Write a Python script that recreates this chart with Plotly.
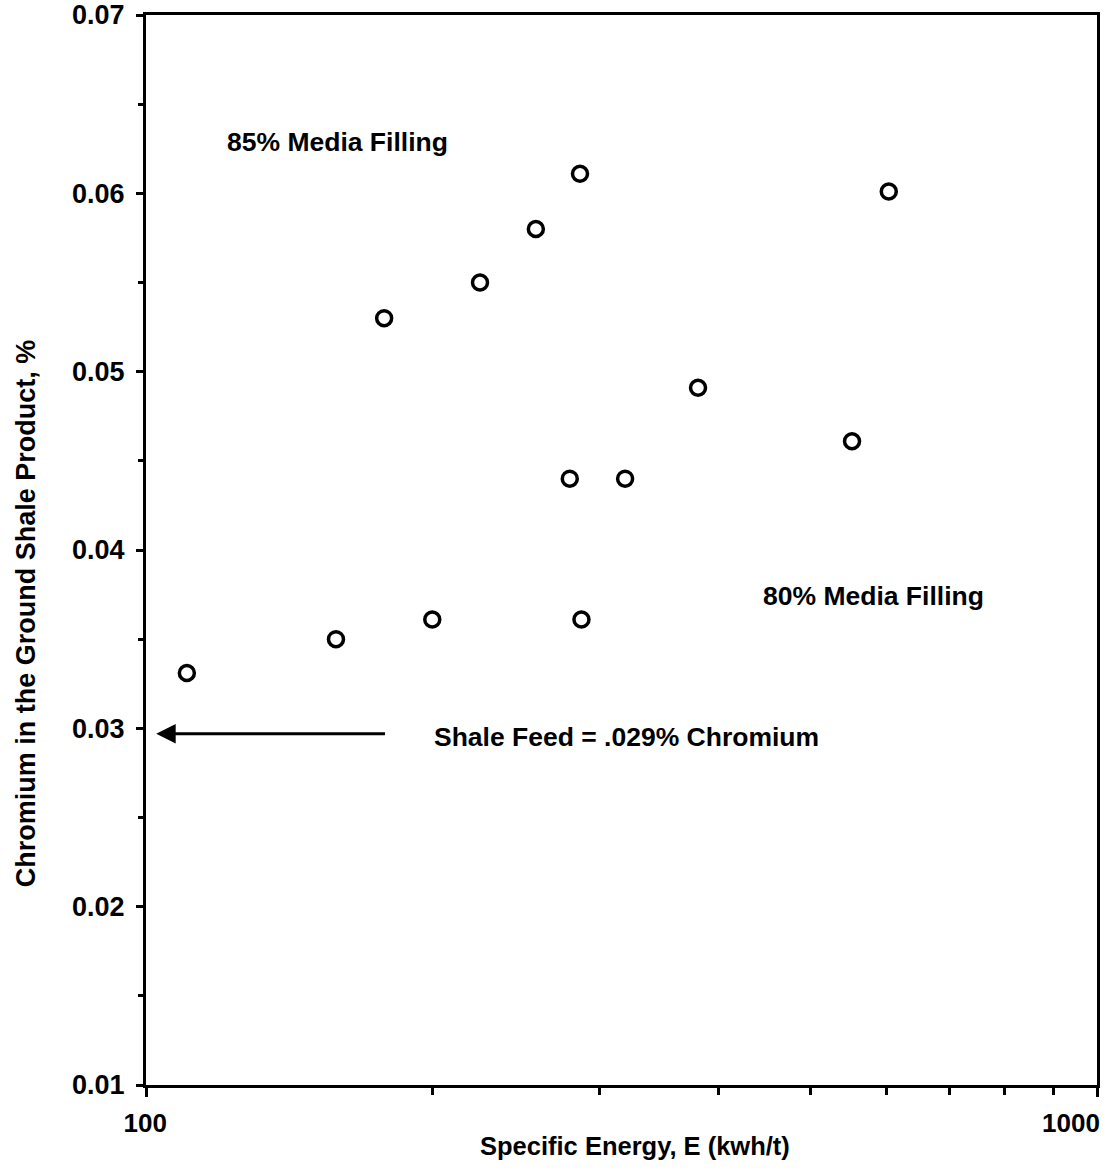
import numpy as np
import plotly.graph_objects as go

# Data
energy = [110.4, 158.4, 178, 200, 224.5, 257, 279, 286, 287, 319, 380.6, 552.6, 604]
chromium = [0.0331, 0.0350, 0.0530, 0.0361, 0.0550, 0.0580, 0.0440, 0.0611, 0.0361, 0.0440, 0.0491, 0.0461, 0.0601]

x_ticks = [100, 1000]
x_tick_labels = ["\u00a0" * 7 + "100", "1000"]
x_minor = [200, 300, 400, 500, 600, 700, 800, 900]
y_ticks = [0.01, 0.02, 0.03, 0.04, 0.05, 0.06, 0.07]
y_tick_labels = ["0.01", "0.02", "0.03", "0.04", "0.05", "0.06", "0.07"]

feed_level = 0.0297
arrow_tail_x = 179
arrow_head_x = 102.5

FONT = "Liberation Sans, Arial, sans-serif"

fig = go.Figure()
fig.add_trace(go.Scatter(
    x=energy, y=chromium, mode="markers",
    marker=dict(symbol="circle-open", size=15, color="black", line=dict(width=3.5, color="black")),
    showlegend=False, hoverinfo="skip",
))

fig.update_layout(
    width=1109, height=1176,
    margin=dict(l=146, r=12, t=15, b=91),
    paper_bgcolor="white", plot_bgcolor="white",
    font=dict(family=FONT, size=20, color="black"),
    showlegend=False,
)

fig.update_xaxes(
    type="log", range=[2, 3], automargin=False,
    tickvals=x_ticks, ticktext=x_tick_labels,
    ticks="outside", ticklen=9, tickwidth=2.5, tickcolor="black",
    ticklabelstandoff=4, ticklabelshift=-26, ticklabeloverflow="allow",
    tickfont=dict(family=FONT, size=26, color="black", weight="bold"),
    minor=dict(tickvals=x_minor, ticks="outside", ticklen=7, tickwidth=2.5, tickcolor="black"),
    showline=True, linewidth=3, linecolor="black", mirror=True,
    showgrid=False, zeroline=False,
)
fig.update_yaxes(
    range=[0.01, 0.07], automargin=False,
    tickvals=y_ticks, ticktext=y_tick_labels,
    ticks="outside", ticklen=7, tickwidth=2.5, tickcolor="black",
    ticklabelstandoff=6, ticklabeloverflow="allow",
    tickfont=dict(family=FONT, size=27, color="black", weight="bold"),
    minor=dict(dtick=0.005, ticks="outside", ticklen=5, tickwidth=2.5, tickcolor="black"),
    showline=True, linewidth=3, linecolor="black", mirror=True,
    showgrid=False, zeroline=False,
)

bold = dict(family=FONT, size=26.5, color="black", weight="bold")

# Axis titles as annotations for exact placement
fig.add_annotation(text="Specific Energy, E (kwh/t)", xref="paper", yref="paper",
                   x=0.514, y=-0.057, showarrow=False,
                   font=dict(family=FONT, size=25.5, color="black", weight="bold"),
                   xanchor="center", yanchor="middle")
fig.add_annotation(text="Chromium in the Ground Shale Product, %", xref="paper", yref="paper",
                   x=-0.126, y=0.441, showarrow=False,
                   font=dict(family=FONT, size=27, color="black", weight="bold"), textangle=-90,
                   xanchor="center", yanchor="middle")

# Labels inside the plot
fig.add_annotation(text="85% Media Filling", x=np.log10(121), y=0.0629,
                   showarrow=False, font=bold, xanchor="left", yanchor="middle")
fig.add_annotation(text="80% Media Filling", x=np.log10(443), y=0.0374,
                   showarrow=False, font=bold, xanchor="left", yanchor="middle")
fig.add_annotation(text="Shale Feed = .029% Chromium", x=np.log10(200), y=0.0295,
                   showarrow=False, font=bold, xanchor="left", yanchor="middle")

# Arrow pointing to the axis
fig.add_annotation(x=np.log10(arrow_head_x), y=feed_level,
                   ax=np.log10(arrow_tail_x), ay=feed_level,
                   xref="x", yref="y", axref="x", ayref="y",
                   text="", showarrow=True, arrowhead=2, arrowsize=1.3,
                   arrowwidth=3, arrowcolor="black")

fig.write_html("out.html")
